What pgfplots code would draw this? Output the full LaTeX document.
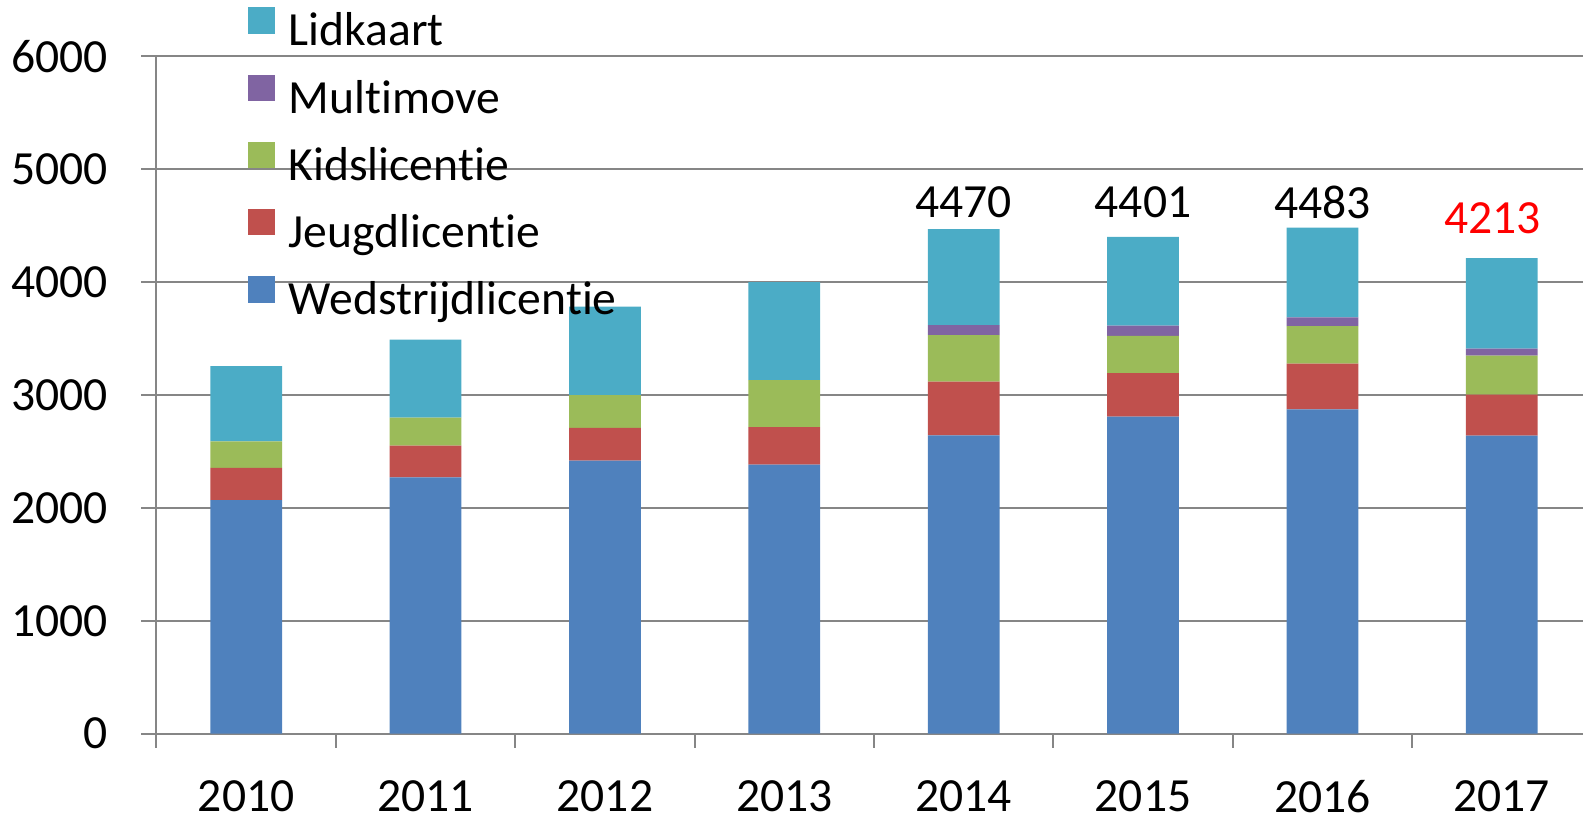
\documentclass[border=0pt]{standalone}
\usepackage{pgfplots}
\pgfplotsset{compat=1.18}
\usepackage{fontspec}
\setmainfont{Carlito}[Ligatures=NoCommon]
\definecolor{cW}{HTML}{4F81BD}
\definecolor{cJ}{HTML}{C0504D}
\definecolor{cK}{HTML}{9BBB59}
\definecolor{cM}{HTML}{8064A2}
\definecolor{cL}{HTML}{4BACC6}
\definecolor{gridgray}{HTML}{868686}
\newcommand\cf{\fontsize{11.9pt}{14pt}\selectfont}
\pgfplotsset{
  mybar/.style={fill=#1, draw=none,
    legend image code/.code={\fill[#1] (0pt,0pt) rectangle (6.75pt,6.6pt);}},
}
\begin{document}
\begin{tikzpicture}
\begin{axis}[
  scale only axis, width=358.74pt, height=169.35pt,
  ybar stacked, bar width=0.40,
  xmin=-0.5, xmax=7.5, ymin=0, ymax=6000,
  xtick={0,1,2,3,4,5,6,7},
  xticklabels={2010,2011,2012,2013,2014,2015,2016,2017},
  minor xtick={-0.5,0.5,1.5,2.5,3.5,4.5,5.5,6.5,7.5},
  ytick={0,1000,2000,3000,4000,5000,6000},
  ymajorgrids,
  grid style={gridgray, line width=0.5pt},
  axis x line*=bottom, axis y line*=left,
  axis line style={gridgray, line width=0.5pt},
  tick align=outside,
  major tick length=3.75pt, minor tick length=3.5pt,
  major x tick style={draw=none},
  minor x tick style={gridgray, line width=0.5pt},
  major y tick style={gridgray, line width=0.5pt},
  tick label style={font=\cf},
  /pgf/number format/assume math mode=true,
  /pgf/number format/1000 sep={},
  scaled y ticks=false,
  yticklabel style={xshift=-4.95pt},
  xticklabel style={yshift=-4.5pt},
  legend style={draw=none, fill=none, at={(0.0633,1.0734)}, anchor=north west,
    font=\cf, inner sep=0pt, row sep=4.7pt, column sep=3.4pt,
    nodes={inner sep=0pt, text height=8.5pt, text depth=2.5pt}},
  legend cell align=left,
  reverse legend,
]
\addplot+[mybar=cW] coordinates {(0,2070) (1,2271) (2,2418) (3,2383) (4,2643) (5,2808) (6,2873) (7,2640)};
\addplot+[mybar=cJ] coordinates {(0,285) (1,280) (2,292) (3,333) (4,475) (5,387) (6,404) (7,363)};
\addplot+[mybar=cK] coordinates {(0,235) (1,248) (2,290) (3,417) (4,413) (5,328) (6,334) (7,345)};
\addplot+[mybar=cM] coordinates {(0,0) (1,0) (2,0) (3,0) (4,89) (5,91) (6,77) (7,62)};
\addplot+[mybar=cL] coordinates {(0,667) (1,691) (2,782) (3,866) (4,850) (5,787) (6,795) (7,803)};
\legend{Wedstrijdlicentie,Jeugdlicentie,Kidslicentie,Multimove,Lidkaart}
\node[anchor=base, font=\cf] at (axis cs:4,4568) {4470};
\node[anchor=base, font=\cf] at (axis cs:5,4568) {4401};
\node[anchor=base, font=\cf] at (axis cs:6,4565) {4483};
\node[anchor=base, font=\cf, text=red, xshift=-2.3pt] at (axis cs:7,4435) {4213};
\end{axis}
\pgfresetboundingbox
\path (-39.125pt,-20.575pt) rectangle (356.625pt,183.425pt);
\end{tikzpicture}
\end{document}
